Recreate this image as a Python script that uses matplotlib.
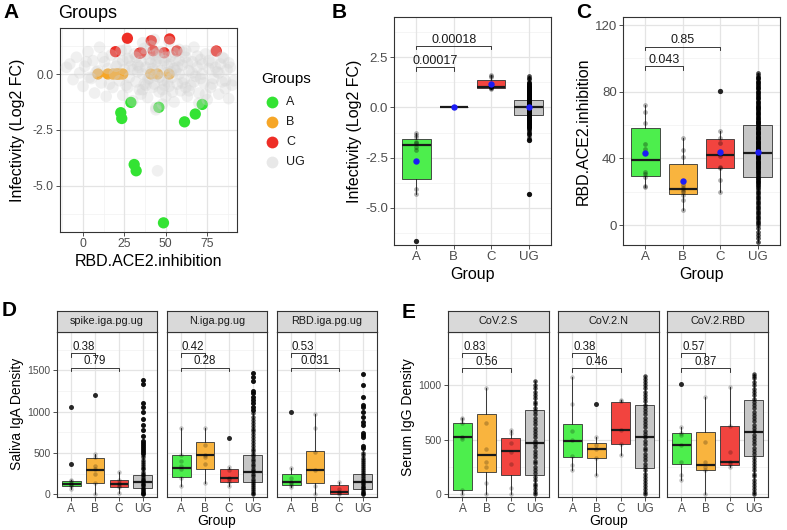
import numpy as np
import matplotlib
matplotlib.use("Agg")
import matplotlib.pyplot as plt
from matplotlib.lines import Line2D
from matplotlib import cbook

plt.rcParams['font.family'] = ['Liberation Sans', 'DejaVu Sans']

# ------------------------------------------------------------------ data
groups = ["A", "B", "C", "UG"]

A_inhib = [28.9, 45.8, 22.8, 23.4, 61.3, 67.8, 72.0, 30.9, 32.1, 48.6]
A_infect = [-1.27, -1.49, -1.73, -1.99, -2.14, -1.79, -1.36, -4.05, -4.33, -6.66]
B_inhib = [9, 15, 18, 20, 21, 22, 24, 41, 45, 52]
B_infect = [0.0, 0.0, 0.0, 0.0, 0.0, 0.0, 0.0, 0.0, 0.0, 0.0]
C_inhib = [19.6, 26.8, 34.1, 35.0, 41.2, 42.4, 49.0, 52.3, 56.7, 80.5]
C_infect = [1.00, 1.60, 0.93, 0.95, 1.49, 1.04, 0.95, 1.57, 1.03, 1.03]

UG_inhib = [-10, -8, -6, -4, -2, 0, 1, 3, 4, 6, 7, 9, 10, 11, 13, 14, 15, 17, 18, 19,
            21, 22, 23, 24, 25, 26, 27, 28, 29, 30, 31, 32, 33, 34, 35, 36, 37, 37, 38, 39,
            40, 40, 41, 42, 43, 44, 44, 45, 46, 47, 47, 48, 49, 50, 50, 51, 52, 53, 54, 55,
            55, 56, 57, 58, 58, 59, 60, 61, 62, 63, 64, 65, 66, 67, 68, 69, 70, 71, 72, 73,
            74, 75, 76, 77, 78, 79, 80, 81, 82, 83, 84, 85, 86, 87, 88, 89, 90, 91, 45, 33,
            38, 42, 46, 52, 57, 62, 35, 48, 55, 41, 63, 28, 44, 51, 43, 52, 36, 44,
            2, 5, 8, 12, 16, 20, 24, 27, 30, 32, 34, 36, 38, 39, 41, 43, 45, 46, 49, 50,
            53, 54, 56, 58, 60, 61, 64, 66, 67, 69, 71, 72, 74, 76, 78, 80, 82, 84, 86, 88,
            70, 48, 26, 62]
UG_infect = [0.3, 0.45, -0.25, 0.75, 0.05, -0.55, 0.35, 1.0, -0.15, 0.6, -0.85, 0.15, 1.2, -0.4, 0.55, -1.0, 0.25, 0.85, -0.6, 0.0,
             0.5, -0.3, 1.05, -0.95, 0.2, -0.5, 0.7, -0.15, 0.35, -1.2, 0.9, -0.35, 0.1, -0.7, 0.55, 0.0, -0.45, 1.15, 0.3, -1.05,
             0.65, -0.2, 0.1, -0.6, 0.85, -0.1, -1.5, 0.4, -0.8, 0.15, 1.0, -0.3, 0.6, -1.0, 0.05, 0.35, -0.55, 0.8, -0.15, 0.25,
             -1.25, 0.6, -0.45, 1.1, 0.0, -0.75, 0.4, -0.25, 0.75, -1.0, 0.15, -0.5, 0.55, 1.2, -0.1, 0.3, -0.85, 0.65, 0.0, -0.4,
             0.9, -1.15, 0.25, -0.6, 0.5, -0.2, 1.0, 0.1, -0.9, 0.45, -0.35, 0.7, -0.65, 0.2, -1.1, 0.3, -0.5, -0.3, -4.33, 0.4,
             -0.5, 0.25, 0.7, 0.45, 0.3, -0.6, -0.9, -0.7, 0.95, 1.25, 0.5, 0.6, 0.55, -0.35, 1.55, 1.45, 1.4, -1.6,
             0.55, -0.2, 0.1, 0.75, -0.45, 0.35, 0.6, -0.6, 0.2, 0.75, 0.3, -0.7, 0.9, -0.25, 0.5, -0.45, 0.95, -0.15, -0.5, 0.75,
             0.1, -0.8, 0.15, 0.6, -0.4, 0.95, -0.75, 0.05, -0.35, 0.8, -0.2, 0.45, -0.9, 0.6, -0.45, 0.3, 0.05, 0.75, -0.3, 0.5,
             -1.3, -1.35, 1.1, 1.05]
# UG box summaries (whislo, q1, median, q3, whishi) and means
UG_infect_box = [-1.55, -0.40, 0.0, 0.38, 1.55]
UG_infect_mean = 0.0
UG_inhib_box = [-10, 29, 43, 60, 91]
UG_inhib_mean = 44.0

pB_labels = ["0.00017", "0.00018"]
pB_levels = [2.0, 3.05]
pC_labels = ["0.043", "0.85"]
pC_levels = [95.4, 107.0]

# Panel D: saliva IgA (facets: spike, N, RBD); boxes = (whislo, q1, med, q3, whishi)
D_titles = ["spike.iga.pg.ug", "N.iga.pg.ug", "RBD.iga.pg.ug"]
D_p_AB = ["0.38", "0.42", "0.53"]
D_p_AC = ["0.79", "0.28", "0.031"]
D_p_levels = [1703, 1529]
D_spike_box = [[60, 95, 125, 160, 170], [5, 133, 294, 440, 490], [15, 85, 125, 170, 265], [0, 73, 145, 234, 475]]
D_spike_pts = [[60, 95, 110, 125, 140, 165, 170, 370, 1050],
               [5, 133, 250, 300, 340, 450, 490, 1200],
               [15, 85, 100, 125, 140, 175, 265],
               [0, 5, 12, 20, 30, 42, 55, 68, 80, 95, 110, 125, 140, 155, 170, 190, 210, 230, 250, 275, 300, 320,
                345, 370, 395, 420, 445, 470, 495, 520, 545, 570, 600, 625, 650, 700, 780, 835, 915, 1000, 1060,
                1110, 1340, 1380]]
D_N_box = [[105, 206, 318, 480, 803], [133, 311, 480, 638, 807], [105, 145, 194, 302, 330], [0, 145, 275, 480, 980]]
D_N_pts = [[105, 200, 300, 340, 400, 480, 803],
           [133, 370, 450, 480, 600, 807],
           [105, 150, 180, 200, 290, 330, 686],
           [0, 15, 35, 60, 85, 110, 135, 160, 190, 220, 250, 280, 310, 340, 370, 400, 430, 460, 490, 520, 550,
            585, 620, 655, 690, 725, 760, 795, 830, 865, 900, 940, 980, 1020, 1060, 1100, 1140, 1180, 1220,
            1250, 1370, 1420, 1470]]
D_RBD_box = [[89, 109, 149, 242, 318], [8, 133, 290, 525, 977], [0, 0, 28, 117, 149], [0, 69, 145, 250, 520]]
D_RBD_pts = [[89, 110, 140, 150, 200, 318, 990],
             [8, 100, 290, 510, 800, 977],
             [0, 10, 30, 60, 149],
             [0, 8, 18, 30, 45, 60, 75, 90, 105, 120, 138, 155, 175, 195, 215, 240, 265, 290, 315, 340, 365,
              390, 415, 440, 470, 500, 560, 580, 690, 720, 740, 840, 880, 930, 1000, 1050, 1080, 1180, 1320, 1450]]

# Panel E: serum IgG (facets: S, N, RBD)
E_titles = ["CoV.2.S", "CoV.2.N", "CoV.2.RBD"]
E_p_AB = ["0.83", "0.38", "0.57"]
E_p_AC = ["0.56", "0.46", "0.87"]
E_p_levels = [1291, 1153]
E_S_box = [[6, 43, 526, 651, 703], [0, 208, 358, 731, 970], [0, 174, 394, 517, 587], [0, 174, 465, 770, 1040]]
E_S_pts = [[6, 40, 510, 520, 650, 690, 703],
           [0, 100, 250, 300, 410, 650, 970],
           [0, 60, 280, 390, 470, 560, 587],
           [0, 18, 44, 72, 98, 131, 158, 192, 219, 251, 283, 308, 342, 371, 398, 432, 458, 491, 522, 548, 583,
            611, 642, 668, 703, 731, 762, 788, 823, 849, 882, 912, 938, 972, 1003, 1040]]
E_N_box = [[220, 340, 486, 639, 1070], [174, 333, 410, 474, 526], [358, 459, 587, 847, 860], [0, 236, 526, 817, 1080]]
E_N_pts = [[220, 270, 350, 500, 580, 830, 1070],
           [174, 330, 410, 450, 526, 830],
           [358, 460, 590, 850, 860],
           [0, 22, 47, 73, 104, 128, 161, 188, 221, 252, 279, 311, 338, 372, 401, 428, 462, 489, 521, 553, 578,
            612, 639, 671, 702, 733, 759, 791, 822, 851, 879, 913, 941, 969, 1002, 1031, 1058, 1080]]
E_RBD_box = [[128, 281, 450, 563, 618], [0, 226, 272, 572, 893], [251, 272, 297, 627, 979], [0, 349, 572, 862, 1100]]
E_RBD_pts = [[128, 180, 300, 450, 540, 560, 618, 1009],
             [0, 226, 250, 300, 480, 893],
             [251, 280, 300, 390, 627, 979],
             [0, 24, 51, 77, 103, 132, 163, 189, 218, 247, 281, 309, 336, 368, 397, 426, 457, 488, 519, 547, 579,
              608, 637, 668, 698, 727, 757, 789, 818, 846, 877, 908, 936, 968, 997, 1029, 1061, 1082, 1100]]

# ------------------------------------------------------------------ style
SC_COL = ['#33E333', '#F6A627', '#EE2E26', '#D2D2D2']
BOX_COL = ['#4DEE4D', '#F9B43E', '#F2443F', '#C6C6C6']
GRID_MAJ = '#E4E4E4'
GRID_MIN = '#F2F2F2'
BORDER = '#333333'
TICKLAB = '#4D4D4D'

W, H = 787, 530
fig = plt.figure(figsize=(W / 100, H / 100), dpi=100)


def add_ax(l, t, r, b):
    return fig.add_axes([l / W, 1 - b / H, (r - l) / W, (b - t) / H])


def ftext(x, y, s, **kw):
    fig.text(x / W, 1 - y / H, s, **kw)


def style(ax, xlim, ylim, xticks, xlabels, yticks, ylabels, xminor=(), yminor=(),
          xfs=8.5, yfs=8.5, show_y=True):
    ax.set_xlim(*xlim)
    ax.set_ylim(*ylim)
    for v in yminor:
        ax.axhline(v, color=GRID_MIN, lw=0.5, zorder=0)
    for v in xminor:
        ax.axvline(v, color=GRID_MIN, lw=0.5, zorder=0)
    for v in yticks:
        ax.axhline(v, color=GRID_MAJ, lw=0.9, zorder=0)
    for v in xticks:
        ax.axvline(v, color=GRID_MAJ, lw=0.9, zorder=0)
    ax.set_xticks(xticks)
    ax.set_xticklabels(xlabels)
    if show_y:
        ax.set_yticks(yticks)
        ax.set_yticklabels(ylabels)
    else:
        ax.set_yticks([])
    for s in ax.spines.values():
        s.set_color(BORDER)
        s.set_linewidth(0.8)
    ax.tick_params(length=3, width=0.6, color=BORDER, labelcolor=TICKLAB, pad=1.5)
    ax.tick_params(axis='x', labelsize=xfs)
    ax.tick_params(axis='y', labelsize=yfs)


def draw_box(ax, pos, st, pts, col, width=0.76, pt_alpha=0.3, ms=3.4, mean=None, ug=False):
    stats = dict(whislo=st[0], q1=st[1], med=st[2], q3=st[3], whishi=st[4], fliers=[])
    ax.bxp([stats], positions=[pos], widths=width, patch_artist=True, showfliers=False,
           showcaps=False, manage_ticks=False, zorder=2,
           boxprops=dict(facecolor=col, edgecolor=BORDER, linewidth=0.6),
           medianprops=dict(color='#1A1A1A', linewidth=1.6),
           whiskerprops=dict(color='#1A1A1A', linewidth=0.6))
    outl = [v for v in pts if v > st[4] or v < st[0]]
    ax.plot([pos] * len(outl), outl, 'o', color='#333333', ms=ms + 0.4, mec='none', zorder=3)
    ax.plot([pos] * len(pts), pts, 'o', color='black', alpha=(0.7 if ug else pt_alpha),
            ms=ms, mec='none', zorder=4)
    if mean is not None:
        ax.plot([pos], [mean], 'o', color='#1C1CF5', ms=4.6, mec='none', zorder=5)


def bracket(ax, x1, x2, y, label, tip_px=3.5, fs=8.5):
    ylo, yhi = ax.get_ylim()
    hpx = ax.get_position().height * H
    tip = tip_px * (yhi - ylo) / hpx
    ax.plot([x1, x1, x2, x2], [y - tip, y, y, y - tip], color='#1A1A1A', lw=0.6, zorder=6)
    ax.annotate(label, xy=((x1 + x2) / 2, y), xytext=(0, 0.3), textcoords='offset points',
                ha='center', va='bottom', fontsize=fs, color='#1A1A1A')


def stats_of(vals):
    s = cbook.boxplot_stats(vals, whis=1.5)[0]
    return [s['whislo'], s['q1'], s['med'], s['q3'], s['whishi']], s['mean']


# ------------------------------------------------------------------ panel A
axA = add_ax(60, 28, 237, 232)
style(axA, (-13.9, 93), (-7.07, 2.06), [0, 25, 50, 75], ["0", "25", "50", "75"],
      [-5, -2.5, 0], ["-5.0", "-2.5", "0.0"], xminor=[-12.5, 12.5, 37.5, 62.5, 87.5],
      yminor=[-6.25, -3.75, -1.25, 1.25], xfs=8.8, yfs=8.8)
axA.scatter(B_inhib, B_infect, s=66, color=SC_COL[1], edgecolors='none', zorder=3)
axA.scatter(A_inhib, A_infect, s=66, color=SC_COL[0], edgecolors='none', zorder=3)
axA.scatter(C_inhib, C_infect, s=66, color=SC_COL[2], edgecolors='none', zorder=3)
axA.scatter(UG_inhib, UG_infect, s=70, color=SC_COL[3], alpha=0.32, edgecolors='none', zorder=4)
ftext(3, 13, "A", fontsize=15, fontweight='bold', ha='left', va='center')
ftext(58, 13, "Groups", fontsize=13, ha='left', va='center')
ftext(148, 261, "RBD.ACE2.inhibition", fontsize=11.5, ha='center', va='center')
ftext(18, 130, "Infectivity (Log2 FC)", fontsize=11.5, ha='center', va='center', rotation=90)
# legend
ftext(261, 79, "Groups", fontsize=11, ha='left', va='center')
for i, g in enumerate(groups):
    yy = 102 + i * 20
    fig.add_artist(Line2D([272 / W], [1 - yy / H], marker='o', ms=8.5, color=SC_COL[i],
                          mec='none', alpha=(0.5 if g == "UG" else 1), transform=fig.transFigure))
    ftext(286, yy, g, fontsize=9, ha='left', va='center', color='#1A1A1A')

# ------------------------------------------------------------------ panel B
axB = add_ax(394, 17, 551, 245)
style(axB, (0.4, 4.6), (-6.84, 4.49), [1, 2, 3, 4], groups, [-5, -2.5, 0, 2.5],
      ["-5.0", "-2.5", "0.0", "2.5"], yminor=[-6.25, -3.75, -1.25, 1.25, 3.75], xfs=9.5, yfs=9.5)
for i, vals in enumerate([A_infect, B_infect, C_infect]):
    st, mu = stats_of(vals)
    draw_box(axB, i + 1, st, vals, BOX_COL[i], mean=mu)
draw_box(axB, 4, UG_infect_box, UG_infect, BOX_COL[3], mean=UG_infect_mean, ug=True)
bracket(axB, 1, 2, pB_levels[0], pB_labels[0], fs=9)
bracket(axB, 1, 3, pB_levels[1], pB_labels[1], fs=9)
ftext(332, 13, "B", fontsize=15, fontweight='bold', ha='left', va='center')
ftext(355, 131, "Infectivity (Log2 FC)", fontsize=11.5, ha='center', va='center', rotation=90)
ftext(472, 274, "Group", fontsize=11.5, ha='center', va='center')

# ------------------------------------------------------------------ panel C
axC = add_ax(623, 17, 780, 245)
style(axC, (0.4, 4.6), (-12, 124.8), [1, 2, 3, 4], groups, [0, 40, 80, 120],
      ["0", "40", "80", "120"], yminor=[20, 60, 100], xfs=9.5, yfs=9.5)
for i, vals in enumerate([A_inhib, B_inhib, C_inhib]):
    st, mu = stats_of(vals)
    draw_box(axC, i + 1, st, vals, BOX_COL[i], mean=mu)
draw_box(axC, 4, UG_inhib_box, UG_inhib, BOX_COL[3], mean=UG_inhib_mean, ug=True)
bracket(axC, 1, 2, pC_levels[0], pC_labels[0], fs=9)
bracket(axC, 1, 3, pC_levels[1], pC_labels[1], fs=9)
ftext(576, 13, "C", fontsize=15, fontweight='bold', ha='left', va='center')
ftext(583, 131, "RBD.ACE2.inhibition", fontsize=11.5, ha='center', va='center', rotation=90)
ftext(701, 274, "Group", fontsize=11.5, ha='center', va='center')


# ------------------------------------------------------------------ panels D and E
def facet_row(xs, top, bottom, strip_top, ylim, yticks, yminor, titles, boxes, pts, pAB, pAC, plev):
    for k, (l, r) in enumerate(xs):
        ax = add_ax(l, top, r, bottom)
        style(ax, (0.4, 4.6), ylim, [1, 2, 3, 4], groups, yticks, [str(v) for v in yticks],
              yminor=yminor, xfs=8.5, yfs=7.5, show_y=(k == 0))
        for i in range(4):
            draw_box(ax, i + 1, boxes[k][i], pts[k][i], BOX_COL[i], width=0.78,
                     pt_alpha=0.22, ms=3.2, ug=(i == 3))
        bracket(ax, 1, 2, plev[0], pAB[k], fs=8.3)
        bracket(ax, 1, 3, plev[1], pAC[k], fs=8.3)
        sax = add_ax(l, strip_top, r, top)
        sax.set_facecolor('#D9D9D9')
        sax.set_xticks([])
        sax.set_yticks([])
        for s in sax.spines.values():
            s.set_color(BORDER)
            s.set_linewidth(0.8)
        sax.text(0.5, 0.5, titles[k], ha='center', va='center', fontsize=7.8,
                 color='#1A1A1A', transform=sax.transAxes)


facet_row([(57, 157), (167, 267), (277, 377)], 332, 497, 311, (-33, 1963),
          [0, 500, 1000, 1500], [250, 750, 1250, 1750], D_titles,
          [D_spike_box, D_N_box, D_RBD_box], [D_spike_pts, D_N_pts, D_RBD_pts],
          D_p_AB, D_p_AC, D_p_levels)
ftext(2, 310, "D", fontsize=15, fontweight='bold', ha='left', va='center')
ftext(17, 414, "Saliva IgA Density", fontsize=10, ha='center', va='center', rotation=90)
ftext(217, 521, "Group", fontsize=10, ha='center', va='center')

facet_row([(448, 549), (558, 659), (667, 768)], 332, 497, 311, (-25, 1486),
          [0, 500, 1000], [250, 750, 1250], E_titles,
          [E_S_box, E_N_box, E_RBD_box], [E_S_pts, E_N_pts, E_RBD_pts],
          E_p_AB, E_p_AC, E_p_levels)
ftext(402, 312, "E", fontsize=15, fontweight='bold', ha='left', va='center')
ftext(408, 417, "Serum IgG Density", fontsize=10, ha='center', va='center', rotation=90)
ftext(609, 521, "Group", fontsize=10, ha='center', va='center')

fig.savefig("out.png", dpi=100)
